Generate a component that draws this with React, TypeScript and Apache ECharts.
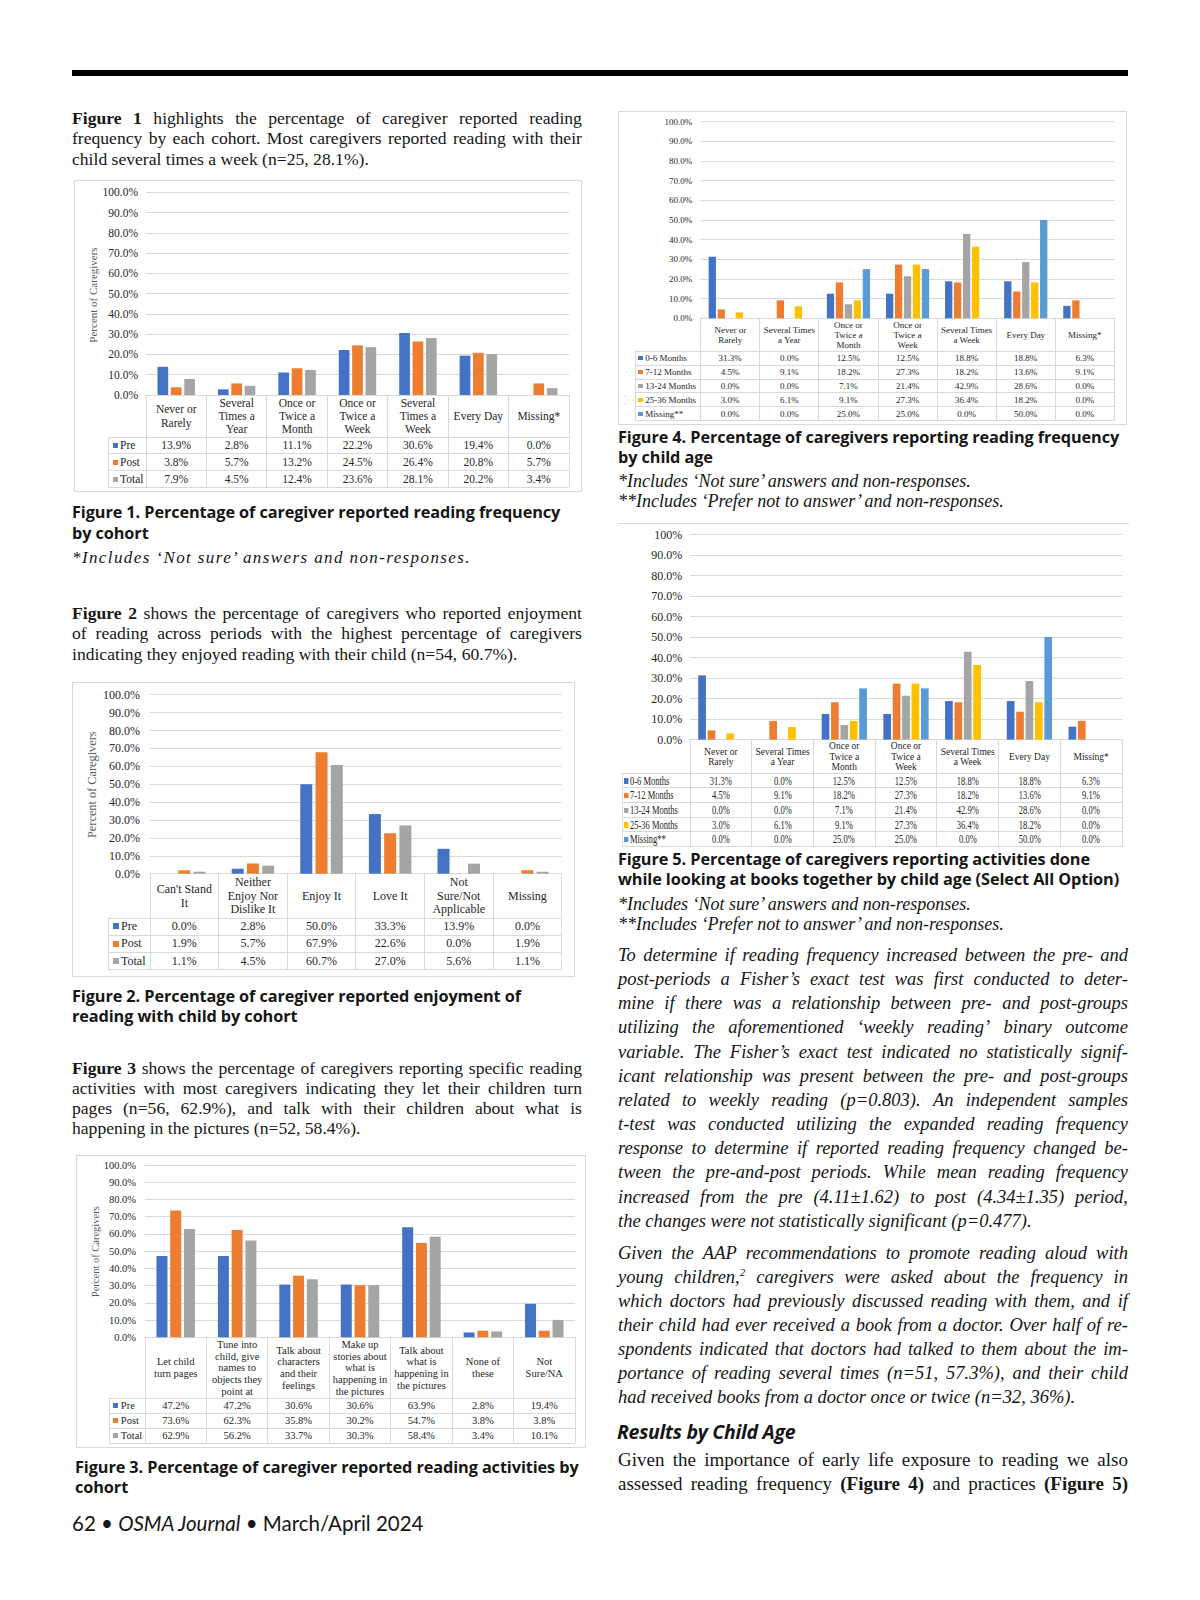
import React, { useEffect, useRef } from "react";
import * as echarts from "echarts";

// ---------- DATA ----------
const COHORT_SERIES = ["Pre", "Post", "Total"];

const FIG1_CATEGORIES = ["Never or\nRarely", "Several\nTimes a\nYear", "Once or\nTwice a\nMonth", "Once or\nTwice a\nWeek", "Several\nTimes a\nWeek", "Every Day", "Missing*"];
const FIG1_PRE = [13.9, 2.8, 11.1, 22.2, 30.6, 19.4, 0.0];
const FIG1_POST = [3.8, 5.7, 13.2, 24.5, 26.4, 20.8, 5.7];
const FIG1_TOTAL = [7.9, 4.5, 12.4, 23.6, 28.1, 20.2, 3.4];

const FIG2_CATEGORIES = ["Can't Stand\nIt", "Neither\nEnjoy Nor\nDislike It", "Enjoy It", "Love It", "Not\nSure/Not\nApplicable", "Missing"];
const FIG2_PRE = [0.0, 2.8, 50.0, 33.3, 13.9, 0.0];
const FIG2_POST = [1.9, 5.7, 67.9, 22.6, 0.0, 1.9];
const FIG2_TOTAL = [1.1, 4.5, 60.7, 27.0, 5.6, 1.1];

const FIG3_CATEGORIES = ["Let child\nturn pages", "Tune into\nchild, give\nnames to\nobjects they\npoint at", "Talk about\ncharacters\nand their\nfeelings", "Make up\nstories about\nwhat is\nhappening in\nthe pictures", "Talk about\nwhat is\nhappening in\nthe pictures", "None of\nthese", "Not\nSure/NA"];
const FIG3_PRE = [47.2, 47.2, 30.6, 30.6, 63.9, 2.8, 19.4];
const FIG3_POST = [73.6, 62.3, 35.8, 30.2, 54.7, 3.8, 3.8];
const FIG3_TOTAL = [62.9, 56.2, 33.7, 30.3, 58.4, 3.4, 10.1];

const AGE_SERIES = ["0-6 Months", "7-12 Months", "13-24 Months", "25-36 Months", "Missing**"];

const FIG4_CATEGORIES = ["Never or\nRarely", "Several Times\na Year", "Once or\nTwice a\nMonth", "Once or\nTwice a\nWeek", "Several Times\na Week", "Every Day", "Missing*"];
const FIG4_M0_6 = [31.3, 0.0, 12.5, 12.5, 18.8, 18.8, 6.3];
const FIG4_M7_12 = [4.5, 9.1, 18.2, 27.3, 18.2, 13.6, 9.1];
const FIG4_M13_24 = [0.0, 0.0, 7.1, 21.4, 42.9, 28.6, 0.0];
const FIG4_M25_36 = [3.0, 6.1, 9.1, 27.3, 36.4, 18.2, 0.0];
const FIG4_MISSING = [0.0, 0.0, 25.0, 25.0, 0.0, 50.0, 0.0];

const FIG5_CATEGORIES = ["Never or\nRarely", "Several Times\na Year", "Once or\nTwice a\nMonth", "Once or\nTwice a\nWeek", "Several Times\na Week", "Every Day", "Missing*"];
const FIG5_M0_6 = [31.3, 0.0, 12.5, 12.5, 18.8, 18.8, 6.3];
const FIG5_M7_12 = [4.5, 9.1, 18.2, 27.3, 18.2, 13.6, 9.1];
const FIG5_M13_24 = [0.0, 0.0, 7.1, 21.4, 42.9, 28.6, 0.0];
const FIG5_M25_36 = [3.0, 6.1, 9.1, 27.3, 36.4, 18.2, 0.0];
const FIG5_MISSING = [0.0, 0.0, 25.0, 25.0, 0.0, 50.0, 0.0];

const Y_TICKS = ["0.0%", "10.0%", "20.0%", "30.0%", "40.0%", "50.0%", "60.0%", "70.0%", "80.0%", "90.0%", "100.0%"];
const FIG5_Y_TICKS = ["0.0%", "10.0%", "20.0%", "30.0%", "40.0%", "50.0%", "60.0%", "70.0%", "80.0%", "90.0%", "100%"];

// ---------- STYLE ----------
const BLUE = "#4472C4";
const ORANGE = "#ED7D31";
const GRAY = "#A5A5A5";
const YELLOW = "#FFC000";
const LBLUE = "#5B9BD5";
const LINE = "#d9d9d9";
const TXT = "#262626";
const SERIF = "'Liberation Serif', 'Times New Roman', serif";
const SANS = "'Open Sans', Lato, sans-serif";
const FOOT = "Lato, 'Open Sans', sans-serif";

type Spec = {
  box: { x: number; y: number; w: number; h: number };
  border: "full" | "top";
  grid: { l: number; r: number; t: number; b: number };
  headerH: number;
  rowH: number;
  labelL: number;
  categories: string[];
  seriesNames: string[];
  values: number[][];
  colors: string[];
  barWidth: number;
  barGap: string;
  tickSize: number;
  tickMargin: number;
  ticks: string[];
  catSize: number;
  catLH: number;
  cellSize: number;
  squeeze?: number;
  keySize: number;
  keyPad: number;
  yTitle?: { x: number; y: number; size: number };
};

function BarFigure({ spec }: { spec: Spec }) {
  const ref = useRef<HTMLDivElement>(null);
  const { box, grid: g } = spec;
  useEffect(() => {
    const chart = echarts.init(ref.current as HTMLDivElement, undefined, { renderer: "svg" });
    const graphic: any[] = [];
    if (spec.yTitle) {
      graphic.push({
        type: "text",
        x: spec.yTitle.x - box.x,
        y: spec.yTitle.y - box.y,
        rotation: Math.PI / 2,
        style: {
          text: "Percent of Caregivers",
          fontSize: spec.yTitle.size,
          fontFamily: SERIF,
          fill: "#595959",
          align: "center",
          verticalAlign: "middle",
          textAlign: "center",
          textVerticalAlign: "middle",
        },
      });
    }
    chart.setOption({
      animation: false,
      grid: { left: g.l - box.x, top: g.t - box.y, width: g.r - g.l, height: g.b - g.t, containLabel: false },
      xAxis: {
        type: "category",
        data: spec.categories,
        boundaryGap: true,
        axisTick: { show: false },
        axisLine: { show: true, lineStyle: { color: LINE, width: 1 } },
        axisLabel: {
          interval: 0,
          margin: spec.headerH / 2,
          verticalAlign: "middle",
          align: "center",
          lineHeight: spec.catLH,
          fontSize: spec.catSize,
          fontFamily: SERIF,
          color: "#262626",
        },
      },
      yAxis: {
        type: "value",
        min: 0,
        max: 100,
        interval: 10,
        axisLine: { show: false },
        axisTick: { show: false },
        splitLine: { lineStyle: { color: LINE, width: 1 } },
        axisLabel: {
          formatter: (v: number) => spec.ticks[Math.round(v / 10)],
          margin: spec.tickMargin,
          fontSize: spec.tickSize,
          fontFamily: SERIF,
          color: TXT,
        },
      },
      series: spec.seriesNames.map((name, i) => ({
        type: "bar",
        name,
        data: spec.values[i],
        barWidth: spec.barWidth,
        barGap: spec.barGap,
        silent: true,
        itemStyle: { color: spec.colors[i] },
      })),
      graphic,
    });
    return () => chart.dispose();
  }, []);

  const n = spec.categories.length;
  const band = (g.r - g.l) / n;
  const rows = spec.seriesNames.length;
  const tTop = g.b + spec.headerH;
  const tBot = tTop + rows * spec.rowH;
  const X = (x: number) => x - box.x;
  const Y = (y: number) => y - box.y;
  const els: any[] = [];
  for (let i = 0; i <= n; i++) {
    els.push(<div key={"v" + i} style={{ position: "absolute", left: X(g.l + i * band) - 0.5, top: Y(g.b), width: 1, height: tBot - g.b, background: LINE }} />);
  }
  els.push(<div key="vl" style={{ position: "absolute", left: X(spec.labelL), top: Y(tTop), width: 1, height: tBot - tTop, background: LINE }} />);
  for (let k = 0; k <= rows; k++) {
    els.push(<div key={"h" + k} style={{ position: "absolute", left: X(spec.labelL), top: Y(tTop + k * spec.rowH) - 0.5, width: g.r - spec.labelL, height: 1, background: LINE }} />);
  }
  const sq = spec.squeeze ?? 1;
  spec.seriesNames.forEach((name, k) => {
    const top = Y(tTop + k * spec.rowH);
    els.push(
      <div key={"rl" + k} style={{ position: "absolute", left: X(spec.labelL) + spec.keyPad, top, height: spec.rowH, width: g.l - spec.labelL, display: "flex", alignItems: "center", fontFamily: SERIF, fontSize: spec.cellSize, color: "#262626", whiteSpace: "nowrap" }}>
        <span style={{ display: "inline-block", transform: `scaleX(${sq})`, transformOrigin: "left center" }}>
          <span style={{ display: "inline-block", width: spec.keySize, height: spec.keySize, background: spec.colors[k], marginRight: 2.5, verticalAlign: "middle", position: "relative", top: -1 }} />
          {name}
        </span>
      </div>
    );
    spec.values[k].forEach((v, i) => {
      els.push(
        <div key={"c" + k + "_" + i} style={{ position: "absolute", left: X(g.l + i * band), top, width: band, height: spec.rowH, display: "flex", alignItems: "center", justifyContent: "center", fontFamily: SERIF, fontSize: spec.cellSize, color: "#262626", whiteSpace: "nowrap" }}>
          <span style={{ display: "inline-block", transform: `scaleX(${sq})` }}>{v.toFixed(1) + "%"}</span>
        </div>
      );
    });
  });

  return (
    <div style={{ position: "absolute", left: box.x, top: box.y, width: box.w, height: box.h }}>
      <div ref={ref} style={{ position: "absolute", left: 0, top: 0, width: box.w, height: box.h }} />
      {els}
      {spec.border === "full" ? (
        <div style={{ position: "absolute", left: 0, top: 0, width: box.w, height: box.h, border: `1px solid ${LINE}`, boxSizing: "border-box", pointerEvents: "none" }} />
      ) : (
        <div style={{ position: "absolute", left: 0, top: 0, width: box.w, height: 1, background: LINE }} />
      )}
    </div>
  );
}

const FIG1: Spec = {
  box: { x: 74, y: 180, w: 508, h: 312 }, border: "full",
  grid: { l: 146, r: 569, t: 192.3, b: 395 },
  headerH: 42, rowH: 16.7, labelL: 108,
  categories: FIG1_CATEGORIES, seriesNames: COHORT_SERIES,
  values: [FIG1_PRE, FIG1_POST, FIG1_TOTAL], colors: [BLUE, ORANGE, GRAY],
  barWidth: 10.7, barGap: "25%",
  tickSize: 11.5, tickMargin: 8, ticks: Y_TICKS,
  catSize: 11.5, catLH: 13.3, cellSize: 11.5, keySize: 5, keyPad: 4.5,
  yTitle: { x: 93, y: 295, size: 11 },
};

const FIG2: Spec = {
  box: { x: 72, y: 682, w: 503, h: 295 }, border: "full",
  grid: { l: 150, r: 561.7, t: 694.7, b: 873.7 },
  headerH: 44.3, rowH: 17.33, labelL: 108,
  categories: FIG2_CATEGORIES, seriesNames: COHORT_SERIES,
  values: [FIG2_PRE, FIG2_POST, FIG2_TOTAL], colors: [BLUE, ORANGE, GRAY],
  barWidth: 12, barGap: "27%",
  tickSize: 12, tickMargin: 10, ticks: Y_TICKS,
  catSize: 12, catLH: 13.5, cellSize: 12, keySize: 6, keyPad: 4.5,
  yTitle: { x: 91.7, y: 784.7, size: 12.3 },
};

const FIG3: Spec = {
  box: { x: 76, y: 1155, w: 510, h: 293 }, border: "full",
  grid: { l: 145, r: 575, t: 1165, b: 1337.3 },
  headerH: 61, rowH: 15, labelL: 109.3,
  categories: FIG3_CATEGORIES, seriesNames: COHORT_SERIES,
  values: [FIG3_PRE, FIG3_POST, FIG3_TOTAL], colors: [BLUE, ORANGE, GRAY],
  barWidth: 11, barGap: "25%",
  tickSize: 10.5, tickMargin: 9, ticks: Y_TICKS,
  catSize: 10.5, catLH: 11.7, cellSize: 10.5, keySize: 5, keyPad: 4,
  yTitle: { x: 95, y: 1251.7, size: 10.5 },
};

const FIG4: Spec = {
  box: { x: 618, y: 110.7, w: 509, h: 314.3 }, border: "full",
  grid: { l: 700.7, r: 1114.4, t: 121.3, b: 318 },
  headerH: 33.3, rowH: 13.9, labelL: 635,
  categories: FIG4_CATEGORIES, seriesNames: AGE_SERIES,
  values: [FIG4_M0_6, FIG4_M7_12, FIG4_M13_24, FIG4_M25_36, FIG4_MISSING], colors: [BLUE, ORANGE, GRAY, YELLOW, LBLUE],
  barWidth: 7.3, barGap: "23%",
  tickSize: 9, tickMargin: 8.4, ticks: Y_TICKS,
  catSize: 9, catLH: 10, cellSize: 9, keySize: 4.5, keyPad: 3.3,
};

const FIG5: Spec = {
  box: { x: 618, y: 522.7, w: 511, h: 325 }, border: "top",
  grid: { l: 690, r: 1122, t: 534.3, b: 739.3 },
  headerH: 34, rowH: 14.66, labelL: 622.3,
  categories: FIG5_CATEGORIES, seriesNames: AGE_SERIES,
  values: [FIG5_M0_6, FIG5_M7_12, FIG5_M13_24, FIG5_M25_36, FIG5_MISSING], colors: [BLUE, ORANGE, GRAY, YELLOW, LBLUE],
  barWidth: 7.7, barGap: "22%",
  tickSize: 12, tickMargin: 7.7, ticks: FIG5_Y_TICKS,
  catSize: 9.5, catLH: 10.2, cellSize: 11.5, squeeze: 0.74, keySize: 5.5, keyPad: 2,
};

// ---------- TEXT ----------
type Para = {
  x: number; y: number; w: number; lh: number; size: number;
  family: string; italic?: boolean; weight?: number; letterSpacing?: number;
  lines: string[]; mode: "justify" | "left" | "justifyAll";
};

function renderWord(w: string) {
  if (w.startsWith("§")) return <b>{w.slice(1)}</b>;
  const k = w.indexOf("^");
  if (k >= 0) return <>{w.slice(0, k)}<sup style={{ fontSize: "0.6em", lineHeight: 0, verticalAlign: "0.6em" }}>{w.slice(k + 1)}</sup></>;
  return w;
}

function Paragraph({ p }: { p: Para }) {
  return (
    <div style={{ position: "absolute", left: p.x, top: p.y - p.lh / 2, width: p.w, fontFamily: p.family, fontSize: p.size, fontStyle: p.italic ? "italic" : "normal", fontWeight: p.weight ?? 400, letterSpacing: p.letterSpacing ?? 0, lineHeight: p.lh + "px", color: "#161616" }}>
      {p.lines.map((ln, i) => {
        const words = ln.split(" ");
        const just = p.mode === "justifyAll" || (p.mode === "justify" && i < p.lines.length - 1);
        if (just) {
          return (
            <div key={i} style={{ display: "flex", justifyContent: "space-between", columnGap: 3, height: p.lh, whiteSpace: "nowrap" }}>
              {words.map((w, j) => <span key={j}>{renderWord(w)}</span>)}
            </div>
          );
        }
        return (
          <div key={i} style={{ height: p.lh, whiteSpace: "nowrap" }}>
            {words.map((w, j) => <React.Fragment key={j}>{j > 0 ? " " : ""}{renderWord(w)}</React.Fragment>)}
          </div>
        );
      })}
    </div>
  );
}

const LEFT_X = 72;
const LEFT_W = 510;
const RIGHT_X = 618;
const RIGHT_W = 510;
const CAP = 16.3;

const PARAS: Para[] = [
  { x: LEFT_X, y: 118, w: LEFT_W, lh: 20.5, size: 17.6, family: SERIF, mode: "justify", lines: [
    "§Figure §1 highlights the percentage of caregiver reported reading",
    "frequency by each cohort. Most caregivers reported reading with their",
    "child several times a week (n=25, 28.1%).",
  ] },
  { x: LEFT_X, y: 512, w: LEFT_W, lh: 21, size: CAP, family: SANS, weight: 700, letterSpacing: -0.1, mode: "left", lines: [
    "Figure 1. Percentage of caregiver reported reading frequency",
    "by cohort",
  ] },
  { x: LEFT_X, y: 558, w: LEFT_W, lh: 20, size: 17, family: SERIF, italic: true, letterSpacing: 1.4, mode: "left", lines: [
    "*Includes ‘Not sure’ answers and non-responses.",
  ] },
  { x: LEFT_X, y: 613, w: LEFT_W, lh: 20.5, size: 17.6, family: SERIF, mode: "justify", lines: [
    "§Figure §2 shows the percentage of caregivers who reported enjoyment",
    "of reading across periods with the highest percentage of caregivers",
    "indicating they enjoyed reading with their child (n=54, 60.7%).",
  ] },
  { x: LEFT_X, y: 995.7, w: LEFT_W, lh: 20, size: CAP, family: SANS, weight: 700, letterSpacing: -0.1, mode: "left", lines: [
    "Figure 2. Percentage of caregiver reported enjoyment of",
    "reading with child by cohort",
  ] },
  { x: LEFT_X, y: 1068, w: LEFT_W, lh: 20, size: 17.6, family: SERIF, mode: "justify", lines: [
    "§Figure §3 shows the percentage of caregivers reporting specific reading",
    "activities with most caregivers indicating they let their children turn",
    "pages (n=56, 62.9%), and talk with their children about what is",
    "happening in the pictures (n=52, 58.4%).",
  ] },
  { x: 75, y: 1466.7, w: LEFT_W, lh: 20, size: CAP, family: SANS, weight: 700, letterSpacing: -0.1, mode: "left", lines: [
    "Figure 3. Percentage of caregiver reported reading activities by",
    "cohort",
  ] },
  { x: RIGHT_X, y: 437, w: RIGHT_W, lh: 20, size: CAP, family: SANS, weight: 700, letterSpacing: -0.1, mode: "left", lines: [
    "Figure 4. Percentage of caregivers reporting reading frequency",
    "by child age",
  ] },
  { x: RIGHT_X, y: 481, w: RIGHT_W, lh: 20, size: 18, family: SERIF, italic: true, mode: "left", lines: [
    "*Includes ‘Not sure’ answers and non-responses.",
    "**Includes ‘Prefer not to answer’ and non-responses.",
  ] },
  { x: RIGHT_X, y: 859, w: RIGHT_W, lh: 20, size: CAP, family: SANS, weight: 700, letterSpacing: -0.1, mode: "left", lines: [
    "Figure 5. Percentage of caregivers reporting activities done",
    "while looking at books together by child age (Select All Option)",
  ] },
  { x: RIGHT_X, y: 904, w: RIGHT_W, lh: 20.3, size: 18, family: SERIF, italic: true, mode: "left", lines: [
    "*Includes ‘Not sure’ answers and non-responses.",
    "**Includes ‘Prefer not to answer’ and non-responses.",
  ] },
  { x: RIGHT_X, y: 955, w: RIGHT_W, lh: 24.18, size: 18.5, family: SERIF, italic: true, mode: "justify", lines: [
    "To determine if reading frequency increased between the pre- and",
    "post-periods a Fisher’s exact test was first conducted to deter-",
    "mine if there was a relationship between pre- and post-groups",
    "utilizing the aforementioned ‘weekly reading’ binary outcome",
    "variable. The Fisher’s exact test indicated no statistically signif-",
    "icant relationship was present between the pre- and post-groups",
    "related to weekly reading (p=0.803). An independent samples",
    "t-test was conducted utilizing the expanded reading frequency",
    "response to determine if reported reading frequency changed be-",
    "tween the pre-and-post periods. While mean reading frequency",
    "increased from the pre (4.11±1.62) to post (4.34±1.35) period,",
    "the changes were not statistically significant (p=0.477).",
  ] },
  { x: RIGHT_X, y: 1252.7, w: RIGHT_W, lh: 24.15, size: 18.5, family: SERIF, italic: true, mode: "justify", lines: [
    "Given the AAP recommendations to promote reading aloud with",
    "young children,^2 caregivers were asked about the frequency in",
    "which doctors had previously discussed reading with them, and if",
    "their child had ever received a book from a doctor. Over half of re-",
    "spondents indicated that doctors had talked to them about the im-",
    "portance of reading several times (n=51, 57.3%), and their child",
    "had received books from a doctor once or twice (n=32, 36%).",
  ] },
  { x: 617, y: 1432, w: RIGHT_W, lh: 24, size: 19.5, family: SANS, italic: true, weight: 700, letterSpacing: -0.3, mode: "left", lines: [
    "Results by Child Age",
  ] },
  { x: RIGHT_X, y: 1460, w: RIGHT_W, lh: 24.2, size: 19, family: SERIF, mode: "justifyAll", lines: [
    "Given the importance of early life exposure to reading we also",
    "assessed reading frequency §(Figure §4) and practices §(Figure §5)",
  ] },
];

export default function App() {
  return (
    <div style={{ position: "absolute", left: 0, top: 0, width: 1200, height: 1600, background: "#ffffff", overflow: "hidden" }}>
      <div style={{ position: "absolute", left: 72, top: 70, width: 1056, height: 6, background: "#000" }} />
      <BarFigure spec={FIG1} />
      <BarFigure spec={FIG2} />
      <BarFigure spec={FIG3} />
      <BarFigure spec={FIG4} />
      <BarFigure spec={FIG5} />
      {PARAS.map((p, i) => <Paragraph key={i} p={p} />)}
      <div style={{ position: "absolute", left: 72, top: 1509, height: 28, lineHeight: "28px", fontFamily: FOOT, fontSize: 20.5, color: "#161616", whiteSpace: "nowrap" }}>
        62 • <i>OSMA Journal</i> • March/April 2024
      </div>
    </div>
  );
}
